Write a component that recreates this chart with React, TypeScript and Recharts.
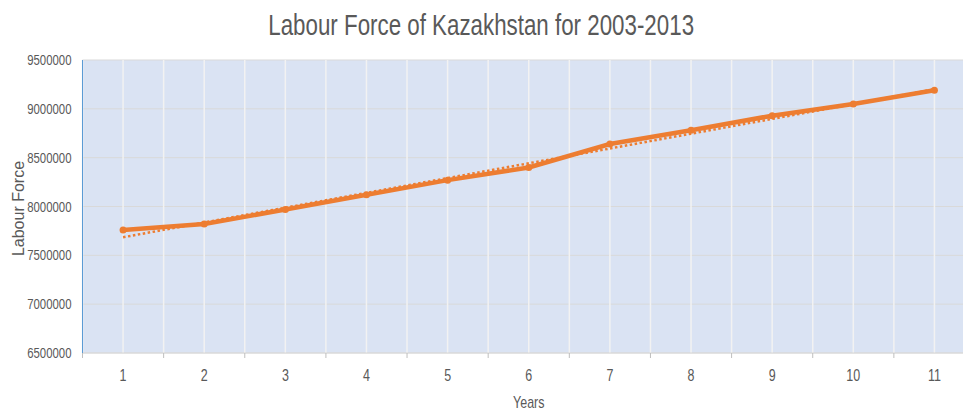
import React from 'react';
import { ComposedChart, Line, XAxis, YAxis, CartesianGrid } from 'recharts';

const categories = ['1', '2', '3', '4', '5', '6', '7', '8', '9', '10', '11'];
const labourForce = [7760000, 7820000, 7970000, 8120000, 8270000, 8400000, 8640000, 8780000, 8930000, 9050000, 9190000];
// dotted linear trendline, end points
const trendStart = 7685000;
const trendEnd = 9200000;
const yTicks = [6500000, 7000000, 7500000, 8000000, 8500000, 9000000, 9500000];

const ORANGE = '#ED7D31';
const TEXT = '#595959';
const FONT = '"Liberation Sans", Arial, sans-serif';

const data = categories.map((c, i) => ({
  x: i + 1,
  value: labourForce[i],
  trend: i === 0 ? trendStart : i === categories.length - 1 ? trendEnd : null,
}));

// gridlines at every category centre and every category boundary
const xTicks: number[] = [];
for (let i = 0; i <= categories.length * 2; i++) xTicks.push(0.5 + i * 0.5);

// the source text is narrow, Calibri-like, so squeeze it horizontally
const NarrowText = ({ x, y, anchor, size, squeeze = 0.78, children }: any) => (
  <g transform={`translate(${x},${y}) scale(${squeeze},1)`}>
    <text x={0} y={0} textAnchor={anchor} dominantBaseline="central" fill={TEXT} fontSize={size} fontFamily={FONT}>
      {children}
    </text>
  </g>
);

const XTick = ({ x, y, payload }: any) => {
  const v = payload.value;
  if (!Number.isInteger(v)) {
    return <line x1={x} x2={x} y1={y} y2={y + 5} stroke="#BFBFBF" strokeWidth={1} />;
  }
  return (
    <NarrowText x={x} y={y + 22} anchor="middle" size={16}>
      {categories[v - 1]}
    </NarrowText>
  );
};

const YTick = ({ x, y, payload }: any) => (
  <NarrowText x={x} y={y} anchor="end" size={15} squeeze={0.76}>
    {payload.value}
  </NarrowText>
);

const XLabel = ({ viewBox }: any) => (
  <NarrowText x={viewBox.x + viewBox.width / 2} y={viewBox.y + 49} anchor="middle" size={16}>
    Years
  </NarrowText>
);

const YLabel = ({ viewBox }: any) => {
  const cx = viewBox.x + 18.5;
  const cy = viewBox.y + viewBox.height / 2 + 2;
  return (
    <text x={cx} y={cy} transform={`rotate(-90, ${cx}, ${cy})`} textAnchor="middle" dominantBaseline="central" fill={TEXT} fontSize={16} fontFamily={FONT}>
      Labour Force
    </text>
  );
};

export default function App() {
  return (
    <div style={{ position: 'absolute', left: 0, top: 0, width: 963, height: 410, overflow: 'hidden', background: '#fff' }}>
      <div
        style={{
          position: 'absolute',
          left: 0,
          top: 8,
          width: 963,
          textAlign: 'center',
          fontFamily: FONT,
          fontSize: 29,
          color: TEXT,
          lineHeight: '34px',
          transform: 'scaleX(0.77)',
          transformOrigin: '480px 0',
        }}
      >
        Labour Force of Kazakhstan for 2003-2013
      </div>
      <ComposedChart width={1000} height={410} data={data} margin={{ top: 60, right: 25, left: 0, bottom: 0 }}>
        <CartesianGrid vertical={false} stroke="#D9D9D9" fill="#DAE3F3" />
        <CartesianGrid horizontal={false} stroke="#F2F2F2" strokeWidth={1.5} />
        <XAxis
          dataKey="x"
          type="number"
          domain={[0.5, categories.length + 0.5]}
          ticks={xTicks}
          interval={0}
          tickLine={false}
          tickSize={0}
          tickMargin={0}
          axisLine={{ stroke: '#D9D9D9' }}
          tick={<XTick />}
          height={57}
          label={{ content: <XLabel /> }}
        />
        <YAxis
          domain={[6500000, 9500000]}
          ticks={yTicks}
          interval={0}
          width={82.5}
          tickLine={false}
          tickMargin={5}
          axisLine={{ stroke: '#5B9BD5' }}
          tick={<YTick />}
          label={{ content: <YLabel /> }}
        />
        <Line
          dataKey="value"
          stroke={ORANGE}
          strokeWidth={4.5}
          dot={{ r: 3.5, fill: ORANGE, stroke: ORANGE, strokeWidth: 0 }}
          isAnimationActive={false}
        />
        <Line
          dataKey="trend"
          stroke={ORANGE}
          strokeWidth={2.5}
          strokeDasharray="2.5 2.5"
          dot={false}
          connectNulls
          isAnimationActive={false}
        />
      </ComposedChart>
    </div>
  );
}
